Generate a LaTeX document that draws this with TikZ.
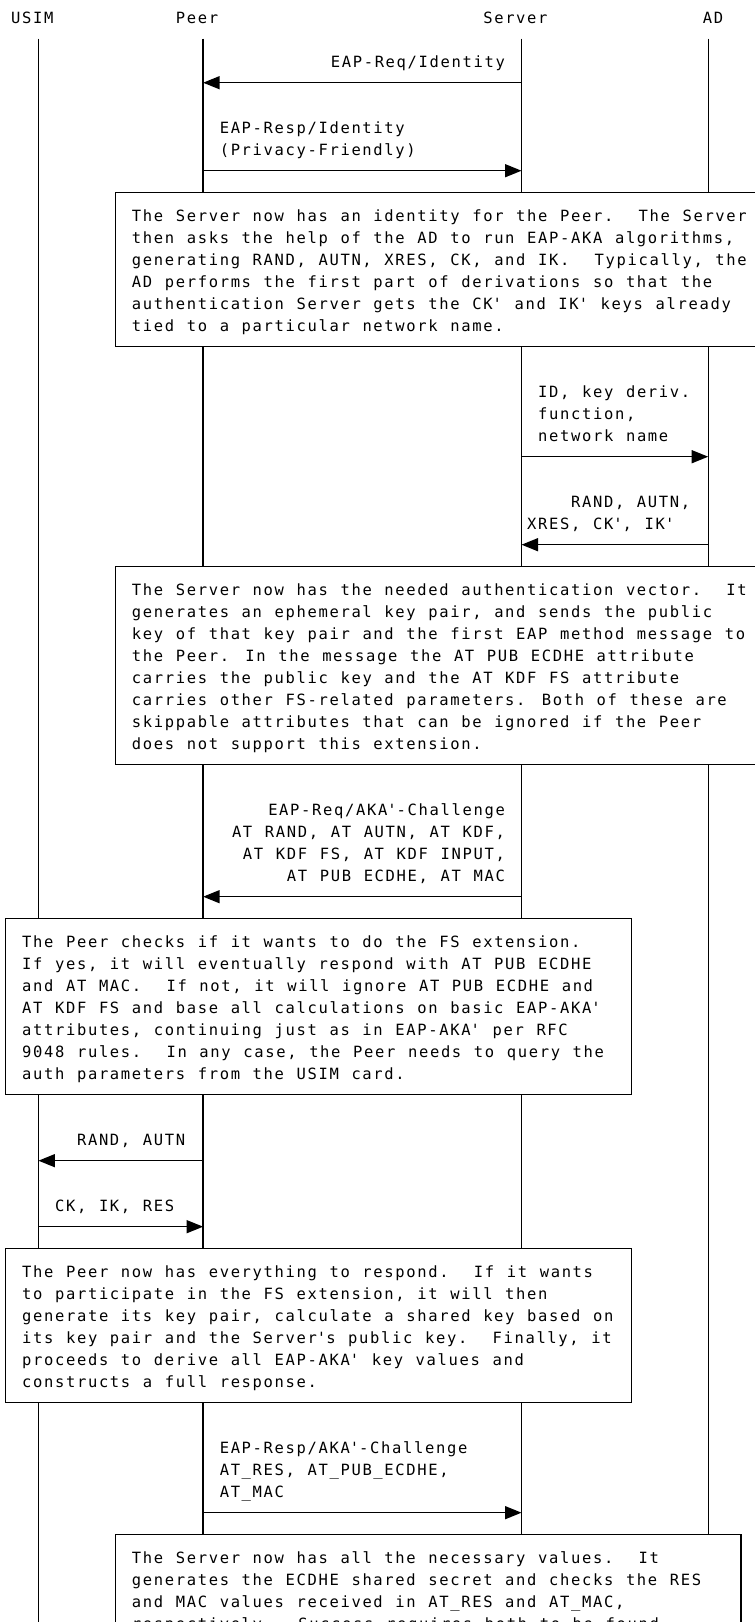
\documentclass[tikz,border=0pt]{standalone}
\usepackage{fontspec}
\usetikzlibrary{arrows.meta}
\newfontfamily\diagfont{DejaVu Sans Mono}[LetterSpace=10.63]
\newcommand\tick{\textquotesingle}
\tikzset{
  lbl/.style={font={\diagfont\fontsize{15.5}{22}\selectfont\spaceskip=12.63pt\relax},
    inner sep=0pt, anchor=base west, align=left},
  lblr/.style={lbl, anchor=base east, align=right},
  lifeline/.style={line width=1.3pt},
  note/.style={draw, line width=1.3pt, fill=white},
  msg/.style={line width=1.4pt, -{Triangle[length=16.5pt,width=13pt]}},
}
\begin{document}
\begin{tikzpicture}[x=10.98pt, y=-22pt]
    \useasboundingbox (0,-0.76) rectangle (68.76,72.97);
    \clip (0,-0.76) rectangle (68.76,72.97);

    % Entities
    \node[lbl] (usim) at (1,0.29) {USIM};
    \node[lbl] (peer) at (16,0.29) {Peer};
    \node[lbl] (server) at (44,0.29) {Server};
    \node[lbl] (ad) at (64,0.29) {AD};

    % Lifelines
    \foreach \name/\col in {usim/3, peer/18, server/47, ad/64} {
        \coordinate (top\name) at (\col+0.5,1);
        \coordinate (bot\name) at (\col+0.5,75);
        \draw[lifeline] (top\name) -- (bot\name);
    }

    % Rows of the messages
    \foreach \r in {3,7,20,24,40,52,55,68}
        \coordinate (r\r) at (0,\r);

    % Identity exchange (text nodes sit on the baseline of their last line)
    \node[lblr] (reqid) at (46,2.29) {EAP-Req/Identity};
    \draw[msg] (topserver |- r3) -- (toppeer |- r3);
    \node[lbl] (respid) at (20,6.29) {EAP-Resp/Identity\\(Privacy-Friendly)};
    \draw[msg] (toppeer |- r7) -- (topserver |- r7);

    % Note 1
    \draw[note] (10.5,8) rectangle (70,15);
    \node[lbl] (note1) at (12,14.29) {The Server now has an identity for the Peer.\ \ The Server\\
        then asks the help of the AD to run EAP-AKA algorithms,\\
        generating RAND, AUTN, XRES, CK, and IK.\ \ Typically, the\\
        AD performs the first part of derivations so that the\\
        authentication Server gets the CK\tick{} and IK\tick{} keys already\\
        tied to a particular network name.};

    % Server <-> AD
    \node[lbl] (keyreq) at (49,19.29) {ID, key deriv.\\function,\\network name};
    \draw[msg] (topserver |- r20) -- (topad |- r20);
    \node[lbl] (vector) at (48,23.29) {\hspace*{43.9pt}RAND, AUTN,\\XRES, CK\tick, IK\tick};
    \draw[msg] (topad |- r24) -- (topserver |- r24);

    % Note 2
    \draw[note] (10.5,25) rectangle (70,34);
    \node[lbl] (note2) at (12,33.29) {The Server now has the needed authentication vector.\ \ It\\
        generates an ephemeral key pair, and sends the public\\
        key of that key pair and the first EAP method message to\\
        the Peer. In the message the AT PUB ECDHE attribute\\
        carries the public key and the AT KDF FS attribute\\
        carries other FS-related parameters. Both of these are\\
        skippable attributes that can be ignored if the Peer\\
        does not support this extension.};

    % Challenge
    \node[lblr] (chal) at (46,39.29) {EAP-Req/AKA\tick-Challenge\\
        AT RAND, AT AUTN, AT KDF,\\
        AT KDF FS, AT KDF INPUT,\\
        AT PUB ECDHE, AT MAC};
    \draw[msg] (topserver |- r40) -- (toppeer |- r40);

    % Note 3
    \draw[note] (0.5,41) rectangle (57.5,49);
    \node[lbl] (note3) at (2,48.29) {The Peer checks if it wants to do the FS extension.\\
        If yes, it will eventually respond with AT PUB ECDHE\\
        and AT MAC.\ \ If not, it will ignore AT PUB ECDHE and\\
        AT KDF FS and base all calculations on basic EAP-AKA\tick\\
        attributes, continuing just as in EAP-AKA\tick{} per RFC\\
        9048 rules.\ \ In any case, the Peer needs to query the\\
        auth parameters from the USIM card.};

    % Peer <-> USIM
    \node[lbl] (authreq) at (7,51.29) {RAND, AUTN};
    \draw[msg] (toppeer |- r52) -- (topusim |- r52);
    \node[lbl] (authresp) at (5,54.29) {CK, IK, RES};
    \draw[msg] (topusim |- r55) -- (toppeer |- r55);

    % Note 4
    \draw[note] (0.5,56) rectangle (57.5,63);
    \node[lbl] (note4) at (2,62.29) {The Peer now has everything to respond.\ \ If it wants\\
        to participate in the FS extension, it will then\\
        generate its key pair, calculate a shared key based on\\
        its key pair and the Server\tick s public key.\ \ Finally, it\\
        proceeds to derive all EAP-AKA\tick{} key values and\\
        constructs a full response.};

    % Response
    \node[lbl] (resp) at (20,67.29) {EAP-Resp/AKA\tick-Challenge\\
        AT\_RES, AT\_PUB\_ECDHE,\\
        AT\_MAC};
    \draw[msg] (toppeer |- r68) -- (topserver |- r68);

    % Note 5
    \draw[note] (10.5,69) rectangle (67.5,80);
    \node[lbl] (note5) at (12,73.29) {The Server now has all the necessary values.\ \ It\\
        generates the ECDHE shared secret and checks the RES\\
        and MAC values received in AT\_RES and AT\_MAC,\\
        respectively.\ \ Success requires both to be found};
\end{tikzpicture}
\end{document}
